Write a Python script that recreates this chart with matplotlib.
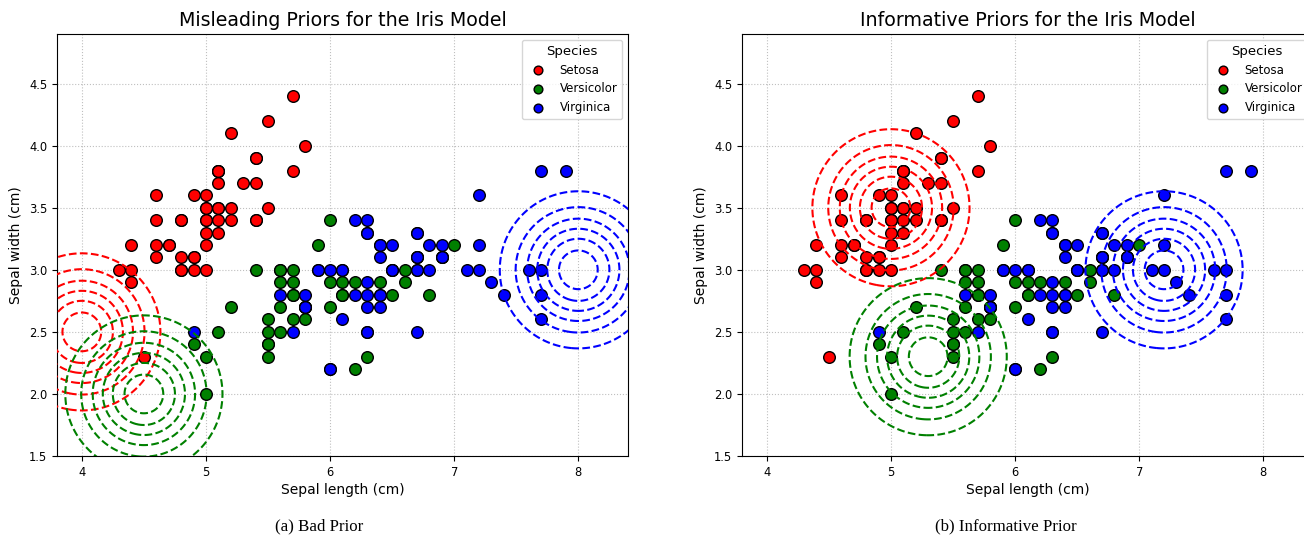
import numpy as np
import matplotlib
matplotlib.use("Agg")
import matplotlib.pyplot as plt

# Iris sepal measurements (length, width) per species
setosa_length = [5.1, 4.9, 4.7, 4.6, 5.0, 5.4, 4.6, 5.0, 4.4, 4.9, 5.4, 4.8, 4.8, 4.3, 5.8, 5.7, 5.4,
                 5.1, 5.7, 5.1, 5.4, 5.1, 4.6, 5.1, 4.8, 5.0, 5.0, 5.2, 5.2, 4.7, 4.8, 5.4, 5.2, 5.5,
                 4.9, 5.0, 5.5, 4.9, 4.4, 5.1, 5.0, 4.5, 4.4, 5.0, 5.1, 4.8, 5.1, 4.6, 5.3, 5.0]
setosa_width = [3.5, 3.0, 3.2, 3.1, 3.6, 3.9, 3.4, 3.4, 2.9, 3.1, 3.7, 3.4, 3.0, 3.0, 4.0, 4.4, 3.9,
                3.5, 3.8, 3.8, 3.4, 3.7, 3.6, 3.3, 3.4, 3.0, 3.4, 3.5, 3.4, 3.2, 3.1, 3.4, 4.1, 4.2,
                3.1, 3.2, 3.5, 3.6, 3.0, 3.4, 3.5, 2.3, 3.2, 3.5, 3.8, 3.0, 3.8, 3.2, 3.7, 3.3]
versicolor_length = [7.0, 6.4, 6.9, 5.5, 6.5, 5.7, 6.3, 4.9, 6.6, 5.2, 5.0, 5.9, 6.0, 6.1, 5.6, 6.7, 5.6,
                     5.8, 6.2, 5.6, 5.9, 6.1, 6.3, 6.1, 6.4, 6.6, 6.8, 6.7, 6.0, 5.7, 5.5, 5.5, 5.8, 6.0,
                     5.4, 6.0, 6.7, 6.3, 5.6, 5.5, 5.5, 6.1, 5.8, 5.0, 5.6, 5.7, 5.7, 6.2, 5.1, 5.7]
versicolor_width = [3.2, 3.2, 3.1, 2.3, 2.8, 2.8, 3.3, 2.4, 2.9, 2.7, 2.0, 3.0, 2.2, 2.9, 2.9, 3.1, 3.0,
                    2.7, 2.2, 2.5, 3.2, 2.8, 2.5, 2.8, 2.9, 3.0, 2.8, 3.0, 2.9, 2.6, 2.4, 2.4, 2.7, 2.7,
                    3.0, 3.4, 3.1, 2.3, 3.0, 2.5, 2.6, 3.0, 2.6, 2.3, 2.7, 3.0, 2.9, 2.9, 2.5, 2.8]
virginica_length = [6.3, 5.8, 7.1, 6.3, 6.5, 7.6, 4.9, 7.3, 6.7, 7.2, 6.5, 6.4, 6.8, 5.7, 5.8, 6.4, 6.5,
                    7.7, 7.7, 6.0, 6.9, 5.6, 7.7, 6.3, 6.7, 7.2, 6.2, 6.1, 6.4, 7.2, 7.4, 7.9, 6.4, 6.3,
                    6.1, 7.7, 6.3, 6.4, 6.0, 6.9, 6.7, 6.9, 5.8, 6.8, 6.7, 6.7, 6.3, 6.5, 6.2, 5.9]
virginica_width = [3.3, 2.7, 3.0, 2.9, 3.0, 3.0, 2.5, 2.9, 2.5, 3.6, 3.2, 2.7, 3.0, 2.5, 2.8, 3.2, 3.0,
                   3.8, 2.6, 2.2, 3.2, 2.8, 2.8, 2.7, 3.3, 3.2, 2.8, 3.0, 2.8, 3.0, 2.8, 3.8, 2.8, 2.8,
                   2.6, 3.0, 3.4, 3.1, 3.0, 3.1, 3.1, 3.1, 2.7, 3.2, 3.3, 3.0, 2.5, 3.0, 3.4, 3.0]

species = ["Setosa", "Versicolor", "Virginica"]
colors = ["red", "green", "blue"]

# prior means (sepal length, sepal width) for each species
bad_prior_means = [(4.0, 2.5), (4.5, 2.0), (8.0, 3.0)]
good_prior_means = [(5.0, 3.5), (5.3, 2.3), (7.2, 3.0)]
prior_sigma = 0.324
contour_levels = [0.225, 0.45, 0.675, 0.9, 1.125, 1.35]

titles = ["Misleading Priors for the Iris Model", "Informative Priors for the Iris Model"]
captions = ["(a) Bad Prior", "(b) Informative Prior"]

data = [
    (setosa_length, setosa_width),
    (versicolor_length, versicolor_width),
    (virginica_length, virginica_width),
]

fig = plt.figure(figsize=(13.04, 5.35), dpi=100)
ax_left = fig.add_axes([57 / 1304, 79 / 535, 571 / 1304, 422 / 535])
ax_right = fig.add_axes([742 / 1304, 79 / 535, 571 / 1304, 422 / 535])

gx, gy = np.meshgrid(np.linspace(2.0, 10.0, 600), np.linspace(0.0, 6.5, 500))

for ax, means, title in zip([ax_left, ax_right], [bad_prior_means, good_prior_means], titles):
    for (xs, ys), name, c in zip(data, species, colors):
        ax.scatter(xs, ys, s=70, c=c, edgecolors="black", linewidths=1, label=name, zorder=2)

    for (mx, my), c in zip(means, colors):
        pdf = np.exp(-((gx - mx) ** 2 + (gy - my) ** 2) / (2 * prior_sigma**2)) / (2 * np.pi * prior_sigma**2)
        ax.contour(gx, gy, pdf, levels=contour_levels, colors=c, linestyles="--", linewidths=1.5, zorder=3)

    ax.set_xlim(3.8, 8.4)
    ax.set_ylim(1.5, 4.9)
    ax.set_xticks([4, 5, 6, 7, 8])
    ax.set_yticks([1.5, 2.0, 2.5, 3.0, 3.5, 4.0, 4.5])
    ax.tick_params(labelsize=8.3)
    ax.grid(True, linestyle=":", color="gray", alpha=0.5, linewidth=0.8)
    ax.set_axisbelow(True)
    ax.set_title(title, fontsize=13.7)
    ax.set_xlabel("Sepal length (cm)", fontsize=10, labelpad=3)
    ax.set_ylabel("Sepal width (cm)", fontsize=10)
    ax.legend(title="Species", loc="upper right", fontsize=8.5, title_fontsize=9.5,
              markerscale=0.75, labelspacing=0.5, borderaxespad=0.5)

# subfigure captions
for cx, caption in zip([319, 1006], captions):
    fig.text(cx / 1304, 1 - 526 / 535, caption, ha="center", va="center",
             fontsize=12.2, family="Liberation Serif")

fig.savefig("out.png", dpi=100)
